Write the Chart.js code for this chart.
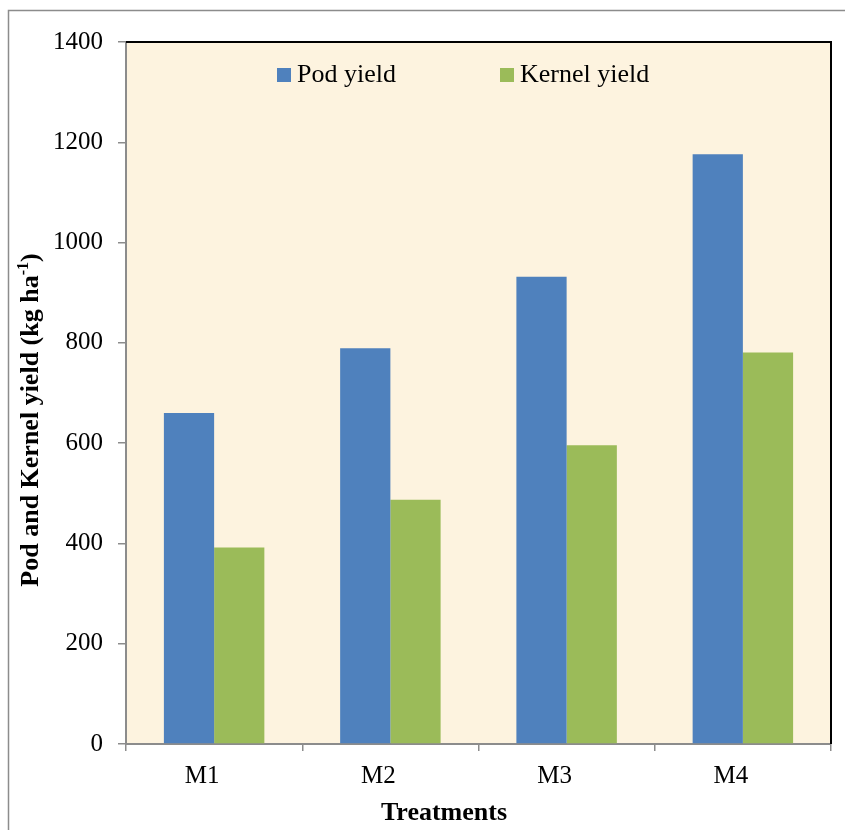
<!DOCTYPE html>
<html>
<head>
<meta charset="utf-8">
<script src="https://cdn.jsdelivr.net/npm/chart.js@4"></script>
<style>
  html, body { margin: 0; padding: 0; background: #fff; }
  #wrap { width: 845px; height: 830px; }
</style>
</head>
<body>
<div id="wrap"><canvas id="chart" width="845" height="830"></canvas></div>
<script>
var treatments = ['M1', 'M2', 'M3', 'M4'];
var podYield = [660, 789, 932, 1176];
var kernelYield = [392, 487, 596, 781];
var seriesNames = ['Pod yield', 'Kernel yield'];
var seriesColors = ['#4F81BD', '#9BBB59'];
var yTicks = [0, 200, 400, 600, 800, 1000, 1200, 1400];

var serif = '"Liberation Serif", "Times New Roman", serif';

// plot background, frame, legend and axis titles
var decor = {
    id: 'decor',
    beforeDraw: function(chart) {
        var ctx = chart.ctx, a = chart.chartArea;
        ctx.save();
        ctx.fillStyle = '#FDF3DF';
        ctx.fillRect(a.left, a.top, a.right - a.left, a.bottom - a.top);
        // outer frame
        ctx.strokeStyle = '#8c8c8c';
        ctx.lineWidth = 1.5;
        ctx.beginPath();
        ctx.moveTo(8.5, 830);
        ctx.lineTo(8.5, 10.5);
        ctx.lineTo(845, 10.5);
        ctx.stroke();
        ctx.restore();
    },
    afterDraw: function(chart) {
        var ctx = chart.ctx, a = chart.chartArea;
        ctx.save();
        // black top and right border
        ctx.strokeStyle = '#000';
        ctx.lineWidth = 2;
        ctx.beginPath();
        ctx.moveTo(a.left, a.top);
        ctx.lineTo(a.right, a.top);
        ctx.lineTo(a.right, a.bottom);
        ctx.stroke();

        // legend inside plot
        ctx.font = '26px ' + serif;
        ctx.textBaseline = 'middle';
        var xs = [a.left + 151, a.left + 374];
        chart.data.datasets.forEach(function(ds, i) {
            ctx.fillStyle = ds.backgroundColor;
            ctx.fillRect(xs[i], a.top + 26, 14, 14);
            ctx.fillStyle = '#000';
            ctx.fillText(ds.label, xs[i] + 20, a.top + 33);
        });

        // x title
        ctx.font = 'bold 26px ' + serif;
        ctx.textAlign = 'center';
        ctx.fillText('Treatments', 444, 813);

        // y title with superscript
        ctx.translate(38, 420);
        ctx.rotate(-Math.PI / 2);
        var bold = 'bold 26px ' + serif, small = 'bold 16px ' + serif;
        var t1 = 'Pod and Kernel yield (kg ha', t2 = '-1', t3 = ')';
        ctx.font = bold; var w1 = ctx.measureText(t1).width, w3 = ctx.measureText(t3).width;
        ctx.font = small; var w2 = ctx.measureText(t2).width;
        var x0 = -(w1 + w2 + w3) / 2;
        ctx.textAlign = 'left';
        ctx.textBaseline = 'alphabetic';
        ctx.font = bold; ctx.fillText(t1, x0, 0);
        ctx.font = small; ctx.fillText(t2, x0 + w1, -10);
        ctx.font = bold; ctx.fillText(t3, x0 + w1 + w2, 0);
        ctx.restore();
    }
};

new Chart(document.getElementById('chart'), {
    type: 'bar',
    data: {
        labels: treatments,
        datasets: [
            { label: seriesNames[0], data: podYield, backgroundColor: seriesColors[0] },
            { label: seriesNames[1], data: kernelYield, backgroundColor: seriesColors[1] }
        ]
    },
    options: {
        responsive: false,
        animation: false,
        categoryPercentage: 0.57,
        barPercentage: 1.0,
        layout: { padding: { top: 42, right: 14, left: 0, bottom: 0 } },
        plugins: {
            legend: { display: false },
            tooltip: { enabled: false }
        },
        scales: {
            x: {
                grid: { offset: true, drawOnChartArea: false, tickLength: 7, color: '#8c8c8c', lineWidth: 1.5 },
                border: { color: '#8c8c8c', width: 2 },
                ticks: { font: { family: serif, size: 25 }, color: '#000', padding: 10, labelOffset: -12 },
                afterFit: function(s) { s.height = 86; }
            },
            y: {
                min: 0, max: 1400,
                afterBuildTicks: function(s) { s.ticks = yTicks.map(function(v) { return { value: v }; }); },
                grid: { drawOnChartArea: false, tickLength: 8, color: '#8c8c8c', lineWidth: 1.5 },
                border: { color: '#8c8c8c', width: 2 },
                ticks: { font: { family: serif, size: 25 }, color: '#000', padding: 15,
                         callback: function(v) { return String(v); } },
                afterFit: function(s) { s.width = 126; }
            }
        }
    },
    plugins: [decor]
});
</script>
</body>
</html>
